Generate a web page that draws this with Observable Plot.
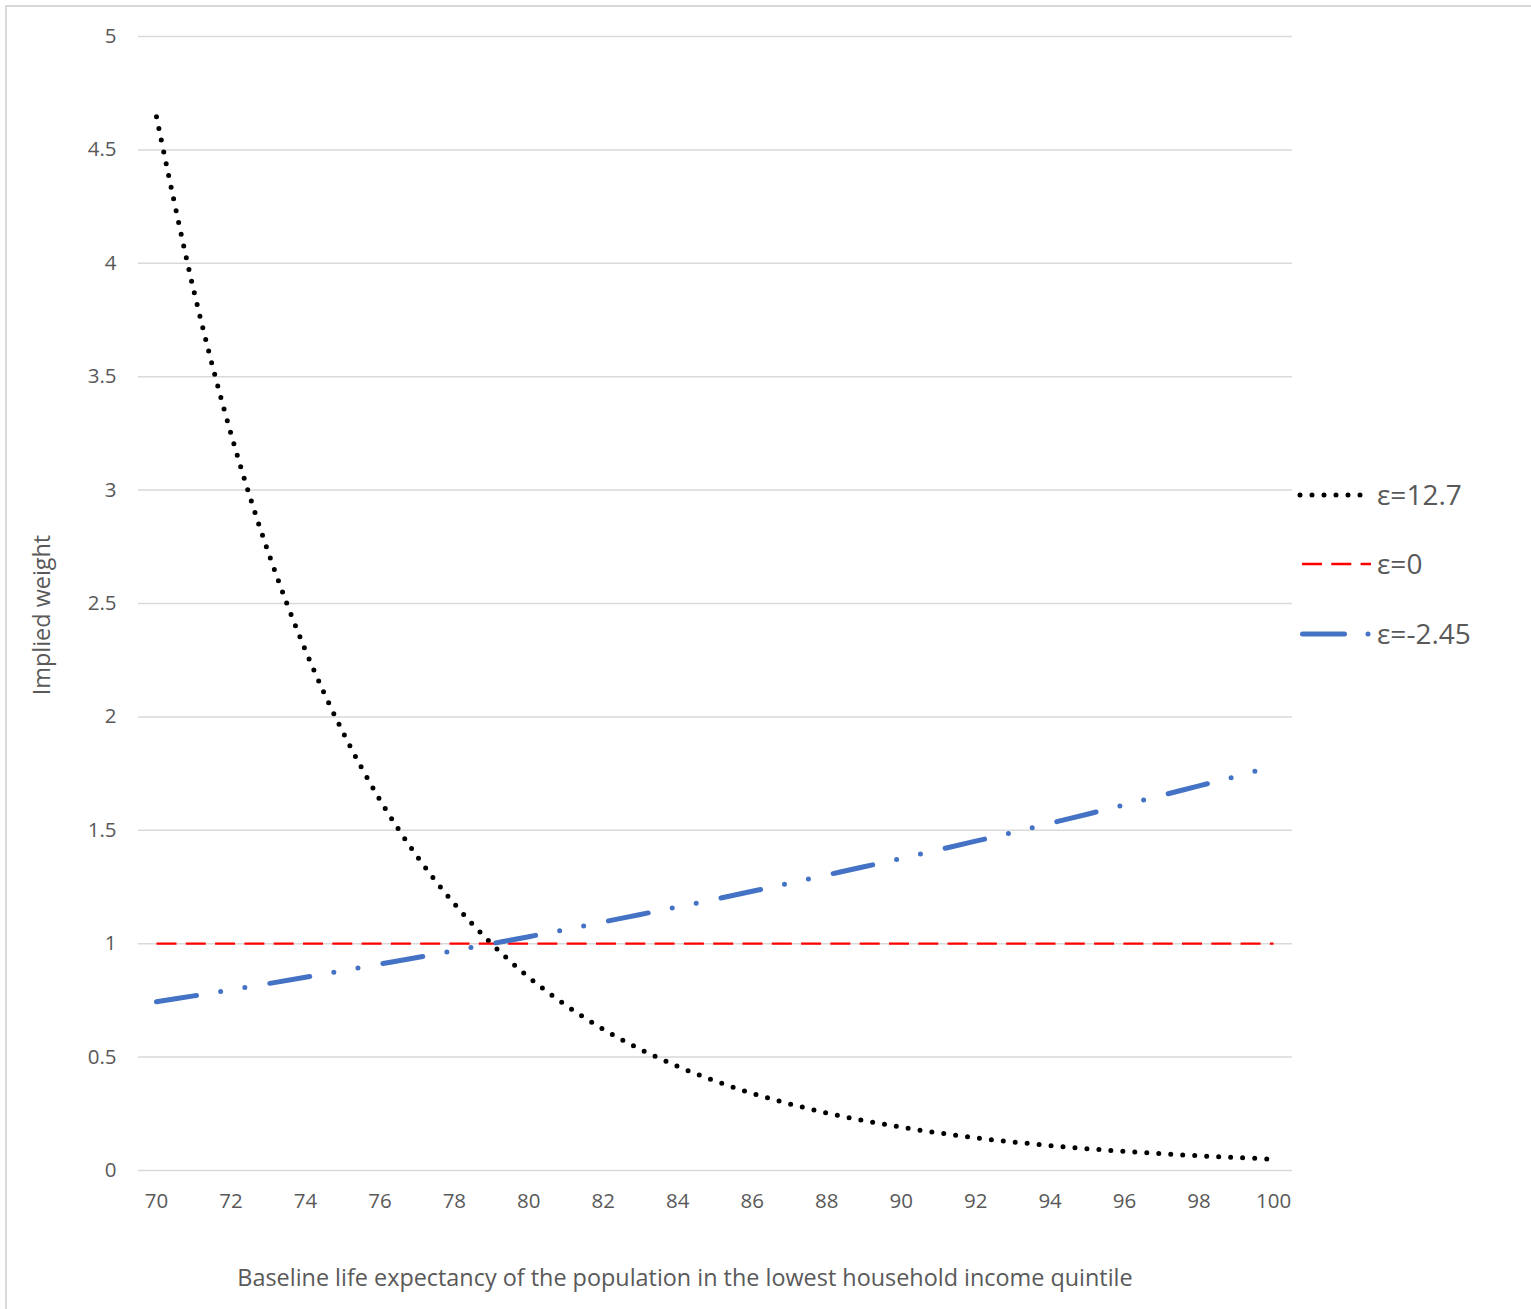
<!DOCTYPE html>
<html>
<head>
<meta charset="utf-8">
<script src="https://cdn.jsdelivr.net/npm/d3@7"></script>
<script src="https://cdn.jsdelivr.net/npm/@observablehq/plot@0.6"></script>
<style>
  body { margin: 0; background: #fff; }
  #wrap { position: relative; width: 1531px; height: 1309px; overflow: hidden; font-family: "Open Sans", sans-serif; background: #fff; }
  #frame { position: absolute; left: 5px; top: 5px; width: 1700px; height: 1500px; border: 2px solid #d9d9d9; box-sizing: border-box; }
  #chart { position: absolute; left: 0; top: 0; }
  #xtitle { position: absolute; left: 685px; top: 1261px; transform: translateX(-50%); white-space: nowrap; font-size: 23.4px; color: #595959; }
  #ytitle { position: absolute; left: 41px; top: 615px; transform: translate(-50%, -50%) rotate(-90deg); white-space: nowrap; font-size: 23.4px; color: #595959; }
  #legend { position: absolute; left: 0; top: 0; }
</style>
</head>
<body>
<div id="wrap">
  <div id="frame"></div>
  <div id="chart"></div>
  <div id="xtitle">Baseline life expectancy of the population in the lowest household income quintile</div>
  <div id="ytitle">Implied weight</div>
</div>
<script>
// ---- data ----
const lifeExpectancy = [70,71,72,73,74,75,76,77,78,79,80,81,82,83,84,85,86,87,88,89,90,91,92,93,94,95,96,97,98,99,100];
const weightEps127 = [4.646,3.881,3.249,2.727,2.294,1.935,1.635,1.385,1.176,1.000,0.852,0.728,0.623,0.534,0.459,0.395,0.340,0.294,0.254,0.220,0.191,0.166,0.144,0.126,0.110,0.096,0.084,0.074,0.065,0.057,0.050];
const weightEps0 = [1,1,1,1,1,1,1,1,1,1,1,1,1,1,1,1,1,1,1,1,1,1,1,1,1,1,1,1,1,1,1];
const weightEpsNeg245 = [0.744,0.770,0.797,0.824,0.852,0.881,0.910,0.939,0.969,1.000,1.031,1.063,1.096,1.129,1.162,1.196,1.231,1.267,1.303,1.339,1.376,1.414,1.452,1.491,1.531,1.571,1.612,1.654,1.696,1.738,1.782];
const seriesNames = ["ε=12.7", "ε=0", "ε=-2.45"];
const xTicks = [70,72,74,76,78,80,82,84,86,88,90,92,94,96,98,100];
const yTicks = [0,0.5,1,1.5,2,2.5,3,3.5,4,4.5,5];

const toRows = (ys) => lifeExpectancy.map((x, i) => ({x, y: ys[i]}));
const black = toRows(weightEps127);
const red = toRows(weightEps0);
const blue = toRows(weightEpsNeg245);

const styles = {
  black: {stroke: "#000000", strokeWidth: 5, strokeDasharray: "0 12", strokeLinecap: "round"},
  red:   {stroke: "#ff0000", strokeWidth: 2.3, strokeDasharray: "20 9.3", strokeLinecap: "butt"},
  blue:  {stroke: "#4472c4", strokeWidth: 5, strokeDasharray: "40.5 24.5 0 24.5 0 25.3", strokeLinecap: "round"}
};

const chart = Plot.plot({
  width: 1531,
  height: 1309,
  marginLeft: 138,
  marginRight: 239,
  marginTop: 36,
  marginBottom: 139,
  style: {fontFamily: "'Open Sans', sans-serif", fontSize: "20.5px", color: "#595959", background: "transparent", overflow: "visible"},
  x: {type: "linear", domain: [69.517, 100.51]},
  y: {type: "linear", domain: [0, 5]},
  marks: [
    Plot.ruleY(yTicks, {stroke: "#d9d9d9", strokeWidth: 1.5}),
    Plot.axisX({ticks: xTicks, tickSize: 0, tickPadding: 23, label: null, tickFormat: d => String(d), fill: "#595959"}),
    Plot.axisY({ticks: yTicks, tickSize: 0, tickPadding: 22, label: null, tickFormat: d => String(d), fill: "#595959"}),
    Plot.line(black, {x: "x", y: "y", curve: "catmull-rom", ...styles.black}),
    Plot.line(red, {x: "x", y: "y", ...styles.red}),
    Plot.line(blue, {x: "x", y: "y", curve: "catmull-rom", ...styles.blue})
  ]
});
document.getElementById("chart").appendChild(chart);

// ---- legend ----
const ns = "http://www.w3.org/2000/svg";
const leg = document.createElementNS(ns, "svg");
leg.setAttribute("id", "legend");
leg.setAttribute("width", 1531);
leg.setAttribute("height", 1309);
leg.style.position = "absolute"; leg.style.left = "0"; leg.style.top = "0";
const entries = [
  {name: seriesNames[0], st: styles.black, y: 495, x1: 1300, x2: 1364},
  {name: seriesNames[1], st: styles.red, y: 564, x1: 1302, x2: 1371},
  {name: seriesNames[2], st: styles.blue, y: 634, x1: 1302.5, x2: 1371}
];
entries.forEach(e => {
  const l = document.createElementNS(ns, "line");
  l.setAttribute("x1", e.x1); l.setAttribute("x2", e.x2);
  l.setAttribute("y1", e.y); l.setAttribute("y2", e.y);
  l.setAttribute("stroke", e.st.stroke);
  l.setAttribute("stroke-width", e.st.strokeWidth);
  l.setAttribute("stroke-dasharray", e.st === styles.blue ? "42 23.5 0 30" : e.st.strokeDasharray);
  l.setAttribute("stroke-linecap", e.st.strokeLinecap);
  leg.appendChild(l);
  const t = document.createElementNS(ns, "text");
  t.setAttribute("x", 1377);
  t.setAttribute("y", e.y + 10);
  t.setAttribute("font-family", "'Open Sans', sans-serif");
  t.setAttribute("font-size", 28);
  t.setAttribute("fill", "#595959");
  t.textContent = e.name;
  leg.appendChild(t);
});
document.getElementById("wrap").appendChild(leg);
</script>
</body>
</html>
